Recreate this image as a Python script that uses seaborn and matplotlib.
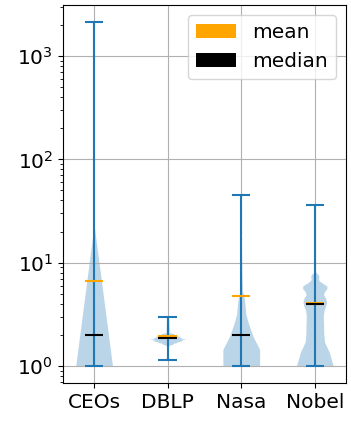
import numpy as np
import pandas as pd
import matplotlib
matplotlib.use('Agg')
import matplotlib.pyplot as plt
from matplotlib.patches import Patch
import seaborn as sns

plt.rcParams['font.size'] = 14.5

categories = ['CEOs', 'DBLP', 'Nasa', 'Nobel']

# tabele czestosci: wartosc -> liczba wystapien
ceos_values = [1, 2, 3, 4, 5, 6, 8, 10, 15, 20, 30, 50, 100, 200, 500, 1000, 2128]
ceos_counts = [4000, 2500, 1000, 600, 400, 300, 300, 250, 200, 150, 100, 80, 60, 30, 15, 8, 1]

dblp_values = [1.14, 1.3, 1.45, 1.55, 1.6, 1.63, 1.66, 1.69, 1.72, 1.75, 1.78,
               1.81, 1.84, 1.87, 1.9, 1.93, 1.96, 1.99, 2.02, 2.05, 2.08, 2.12,
               2.2, 2.25, 2.3, 2.35, 2.4, 2.45, 2.5, 2.55, 2.6, 2.65, 2.7, 2.75,
               2.8, 2.85, 2.9, 2.95, 3.0]
dblp_counts = [8, 30, 90, 180, 360, 620, 640, 1050, 1100, 1700, 1350,
               2200, 1300, 1700, 1250, 1400, 1000, 1100, 700, 650, 400, 300,
               330, 300, 285, 270, 255, 240, 240, 225, 225, 210, 210, 195,
               195, 180, 180, 165, 150]

nasa_values = [1, 1.25, 1.5, 1.75, 2, 2.25, 2.5, 2.75, 3, 3.5, 4, 4.5, 5, 6, 7,
               8, 9, 10, 11, 12, 14, 17, 20, 25, 30, 35, 40, 45]
nasa_counts = [4000, 2080, 1600, 1120, 1040, 880, 720, 640, 560, 880, 720, 560,
               480, 400, 320, 240, 240, 240, 160, 160, 160, 160, 240, 240, 240,
               160, 160, 160]

nobel_values = [1, 1.5, 2, 2.5, 3, 3.5, 4, 4.5, 5, 5.5, 6, 6.5, 7, 7.5, 8,
                10, 12, 15, 20, 25, 30, 36]
nobel_counts = [88, 30, 30, 30, 28, 30, 42, 40, 22, 42, 46, 14, 10, 18, 2,
                5, 3, 3, 1, 1, 1, 1]

# ramka danych w formacie dlugim
frames = []
for name, vals, cnts in [('CEOs', ceos_values, ceos_counts),
                         ('DBLP', dblp_values, dblp_counts),
                         ('Nasa', nasa_values, nasa_counts),
                         ('Nobel', nobel_values, nobel_counts)]:
    frames.append(pd.DataFrame({'dataset': name, 'value': np.repeat(vals, cnts)}))
df = pd.concat(frames, ignore_index=True)

stats = df.groupby('dataset')['value'].agg(['min', 'max', 'mean', 'median']).reindex(categories)
pos = np.arange(len(categories))

fig, ax = plt.subplots(figsize=(3.51, 4.21), dpi=100)
fig.subplots_adjust(left=0.179, right=0.986, bottom=0.090, top=0.988)

# wykres skrzypcowy
sns.violinplot(data=df, x='dataset', y='value', order=categories, color='C0',
               saturation=1, width=0.5, density_norm='width', cut=0, inner=None,
               linewidth=0, bw_adjust=0.33, gridsize=100, ax=ax)
for c in ax.collections:
    c.set_alpha(0.3)

# linie: min-max, srednia, mediana
ax.vlines(pos, stats['min'], stats['max'], colors='C0', lw=1.5)
ax.hlines(stats['max'], pos - 0.125, pos + 0.125, colors='C0', lw=1.5)
ax.hlines(stats['min'], pos - 0.125, pos + 0.125, colors='C0', lw=1.5)
ax.hlines(stats['mean'], pos - 0.125, pos + 0.125, colors='orange', lw=1.5)
ax.hlines(stats['median'], pos - 0.125, pos + 0.125, colors='black', lw=1.5)

ax.set_yscale('log')
lo, hi = np.log10(stats['min'].min()), np.log10(stats['max'].max())
ax.set_ylim(10 ** (lo - 0.05 * (hi - lo)), 10 ** (hi + 0.05 * (hi - lo)))
ax.set_xlim(-0.425, 3.425)
ax.set_xlabel('')
ax.set_ylabel('')
ax.grid(True)

ax.legend(handles=[Patch(facecolor='orange', label='mean'),
                   Patch(facecolor='black', label='median')], loc='upper right')

plt.savefig('out.png')
